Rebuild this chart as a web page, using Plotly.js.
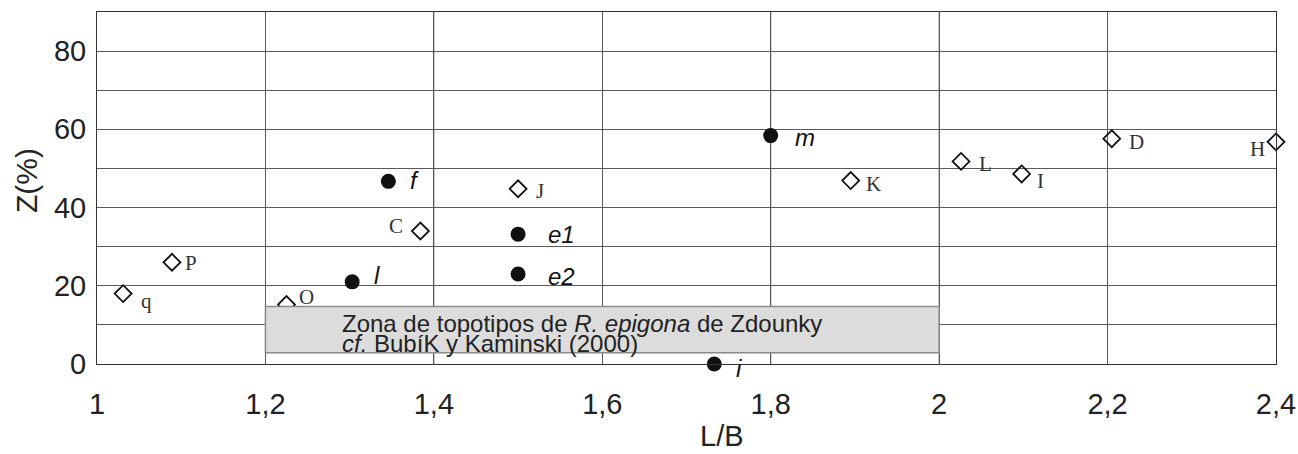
<!DOCTYPE html>
<html>
<head>
<meta charset="utf-8">
<script src="https://cdn.plot.ly/plotly-3.0.1.min.js"></script>
<style>html,body{margin:0;padding:0;background:#fff;}#chart{width:1298px;height:454px;}</style>
</head>
<body>
<div id="chart"></div>
<script>
// Open diamonds (topotypes)
const openLabels = ['q','P','O','C','J','K','L','I','D','H'];
const openLB     = [1.031, 1.089, 1.225, 1.384, 1.500, 1.895, 2.026, 2.098, 2.205, 2.400];
const openZ      = [18.0, 26.0, 15.2, 34.0, 44.8, 46.9, 51.8, 48.6, 57.6, 56.8];

// Filled circles (samples)
const filledLabels = ['f','l','e1','e2','i','m'];
const filledLB     = [1.346, 1.303, 1.500, 1.500, 1.733, 1.800];
const filledZ      = [46.7, 21.0, 33.2, 23.0, 0.0, 58.4];

// Zone of R. epigona topotypes
const zoneLB = [1.2, 2.0];
const zoneZ  = [2.9, 14.7];
const zoneLine1 = 'Zona de topotipos de <i>R. epigona</i> de Zdounky';
const zoneLine2 = '<i>cf.</i> BubíK y Kaminski (2000)';

// Axis ticks and titles
const xTickVals = [1, 1.2, 1.4, 1.6, 1.8, 2, 2.2, 2.4];
const yTickVals = [0, 20, 40, 60, 80];
const xTitle = 'L/B';
const yTitle = 'Z(%)';
// vertical grid lines drawn lighter in the original
const lightGridX = [1.4, 1.8, 2.0];

// label offsets (style): [dx, dy, anchor]
const openOffsets = [[16,7,'left'],[11,1,'left'],[11,-8,'left'],[-15,-5,'right'],[16,2,'left'],[13,3,'left'],[16,3,'left'],[13,7,'left'],[15,3,'left'],[-9,7,'right']];
const filledOffsets = [[20,-1,'left'],[20,-6,'left'],[28,0,'left'],[28,2,'left'],[20,4,'left'],[22,2,'left']];

const sans = 'Liberation Sans, Arial, sans-serif';
const labelFontFamily = 'Liberation Serif, DejaVu Serif, serif';
const annotations = [];
openLabels.forEach((t,i)=>{
  const o = openOffsets[i];
  annotations.push({x:openLB[i], y:openZ[i], xref:'x', yref:'y', text:t, showarrow:false,
    xanchor:o[2], yanchor:'middle', xshift:o[0], yshift:-o[1],
    font:{family:labelFontFamily, size:21, color:'#333'}});
});
filledLabels.forEach((t,i)=>{
  const o = filledOffsets[i];
  annotations.push({x:filledLB[i], y:filledZ[i], xref:'x', yref:'y', text:'<i>'+t+'</i>', showarrow:false,
    xanchor:o[2], yanchor:'middle', xshift:o[0], yshift:-o[1],
    font:{family:sans, size:24, color:'#111'}});
});
annotations.push({x:zoneLB[0], y:zoneZ[1], xref:'x', yref:'y', text:zoneLine1, showarrow:false,
  xanchor:'left', yanchor:'middle', xshift:76, yshift:-17, borderpad:0,
  font:{family:sans, size:24, color:'#222'}});
annotations.push({x:zoneLB[0], y:zoneZ[1], xref:'x', yref:'y', text:zoneLine2, showarrow:false,
  xanchor:'left', yanchor:'middle', xshift:76, yshift:-37, borderpad:0,
  font:{family:sans, size:24, color:'#222'}});
// axis titles (offset like the original)
annotations.push({x:0.53, y:0, xref:'paper', yref:'paper', text:xTitle, showarrow:false, borderpad:0,
  xanchor:'center', yanchor:'middle', yshift:-72, font:{family:sans, size:29, color:'#222'}});
annotations.push({x:0, y:0.52, xref:'paper', yref:'paper', text:yTitle, showarrow:false, textangle:-90,
  xanchor:'center', yanchor:'middle', xshift:-70, font:{family:sans, size:30, color:'#222'}});

const traces = [
  {x:openLB, y:openZ, mode:'markers', type:'scatter', cliponaxis:false,
   marker:{symbol:'diamond-open', size:13, color:'#111', line:{width:1.8, color:'#111'}}},
  {x:filledLB, y:filledZ, mode:'markers', type:'scatter', cliponaxis:false,
   marker:{symbol:'circle', size:15, color:'#111'}}
];

const shapes = lightGridX.map(v=>({type:'line', xref:'x', yref:'paper', x0:v, x1:v, y0:0, y1:1,
  line:{color:'#a8a8a8', width:1.5}, layer:'below'}));
shapes.push({type:'rect', xref:'x', yref:'y', x0:zoneLB[0], x1:zoneLB[1], y0:zoneZ[0], y1:zoneZ[1],
  fillcolor:'#dcdcdc', line:{color:'#8a8a8a', width:1.5}, layer:'above'});

const axFont = {family:sans, size:29, color:'#222'};
const layout = {
  width:1298, height:454,
  margin:{l:97, r:22, t:12, b:90},
  paper_bgcolor:'#fff', plot_bgcolor:'#fff',
  separators:',.',
  showlegend:false,
  xaxis:{range:[1,2.4], tickvals:xTickVals, showgrid:true, gridcolor:'#5a5a5a', gridwidth:1,
    zeroline:false, showline:true, linecolor:'#333', linewidth:1, mirror:true,
    ticks:'', tickfont:axFont, ticklabelstandoff:14},
  yaxis:{range:[0,90], tickvals:yTickVals, showgrid:true, gridcolor:'#5a5a5a', gridwidth:1,
    minor:{dtick:10, showgrid:true, gridcolor:'#5a5a5a', gridwidth:1},
    zeroline:false, showline:true, linecolor:'#333', linewidth:1, mirror:true,
    ticks:'', tickfont:axFont, ticklabelstandoff:4},
  shapes:shapes,
  annotations:annotations
};
Plotly.newPlot('chart', traces, layout, {displayModeBar:false, staticPlot:true});
</script>
</body>
</html>
